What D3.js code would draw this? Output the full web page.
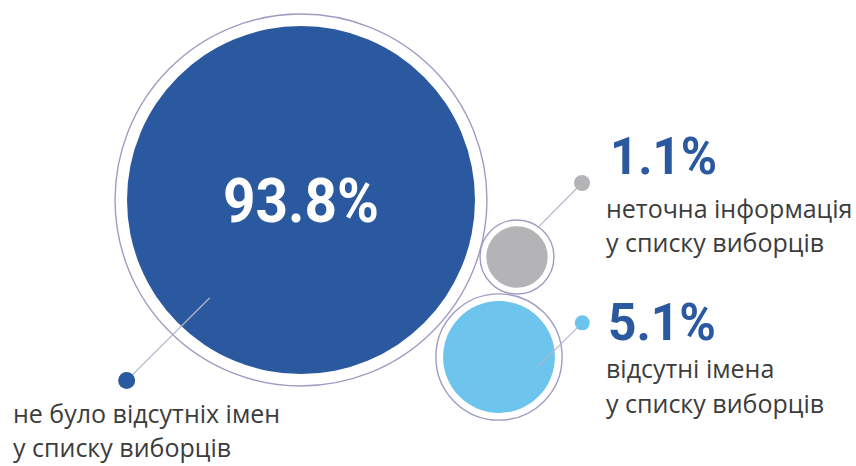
<!DOCTYPE html>
<html>
<head>
<meta charset="utf-8">
<script src="https://cdn.jsdelivr.net/npm/d3@7"></script>
<style>
  html, body { margin: 0; padding: 0; background: #ffffff; }
  svg { display: block; }
</style>
</head>
<body>
<svg id="chart" width="856" height="466"></svg>
<script>
// ---- data ----
const categories = [
  ["не було відсутніх імен", "у списку виборців"],
  ["неточна інформація", "у списку виборців"],
  ["відсутні імена", "у списку виборців"]
];
const values = [93.8, 1.1, 5.1];
const valueLabels = ["93.8%", "1.1%", "5.1%"];

// ---- styling / layout ----
const fills = ["#2b599f", "#b4b4b6", "#6dc5ee"];
const ringColor = "#a09cc4";
const numberColor = "#2b599f";
const textColor = "#3c3c3c";

// circle centres (layout)
const centers = [[301, 200], [517, 257], [499, 357]];
// leader lines in polar offsets from the bubble centre (deg, px)
const leaders = [
  { a1: 133, d1: 134, a2: 134, d2: 251, dotR: 8.5 },
  { a1: -55, d1: 35, a2: -48.7, d2: 98.5, dotR: 8 },
  { a1: 14, d1: 40, a2: -22.3, d2: 90, dotR: 7.5 }
];
// label anchors
const labelPos = [
  { x: 13, num: null, lines: [423, 457] },
  { x: 606, num: 174, lines: [218, 252] },
  { x: 606, num: 340, lines: [378, 413] }
];
const numX = [null, 610, 608];
const numWidths = [156, 107, 108];

const svg = d3.select("#chart");

const r = d3.scalePow().exponent(0.39).domain([0, d3.max(values)]).range([0, 174]);

const data = values.map((v, i) => ({
  v, i, cat: categories[i], label: valueLabels[i],
  cx: centers[i][0], cy: centers[i][1], r: r(v)
}));

// outer rings
svg.selectAll("circle.ring").data(data).join("circle")
  .attr("class", "ring")
  .attr("cx", d => d.cx).attr("cy", d => d.cy)
  .attr("r", d => d.r + 5 + d.r * 0.04)
  .attr("fill", "#ffffff")
  .attr("stroke", ringColor).attr("stroke-width", 1.4);

// filled bubbles
svg.selectAll("circle.bubble").data(data).join("circle")
  .attr("class", "bubble")
  .attr("cx", d => d.cx).attr("cy", d => d.cy)
  .attr("r", d => d.r)
  .attr("fill", d => fills[d.i]);

// leader lines + dots
const rad = deg => deg * Math.PI / 180;
data.forEach(d => {
  const L = leaders[d.i];
  const x1 = d.cx + Math.cos(rad(L.a1)) * L.d1, y1 = d.cy + Math.sin(rad(L.a1)) * L.d1;
  const x2 = d.cx + Math.cos(rad(L.a2)) * L.d2, y2 = d.cy + Math.sin(rad(L.a2)) * L.d2;
  svg.append("line")
    .attr("x1", x1).attr("y1", y1).attr("x2", x2).attr("y2", y2)
    .attr("stroke", "#b3b7cc").attr("stroke-width", 1.2);
  svg.append("circle")
    .attr("cx", x2).attr("cy", y2).attr("r", L.dotR)
    .attr("fill", fills[d.i]);
});

// big value inside first bubble
svg.append("text")
  .attr("x", data[0].cx - numWidths[0] / 2).attr("y", data[0].cy + 22)
  .attr("textLength", numWidths[0]).attr("lengthAdjust", "spacingAndGlyphs")
  .attr("font-family", "Roboto, 'DejaVu Sans', sans-serif")
  .attr("font-weight", 700).attr("font-size", 62)
  .attr("fill", "#ffffff")
  .text(data[0].label);

// other values
data.slice(1).forEach(d => {
  const p = labelPos[d.i];
  svg.append("text")
    .attr("x", numX[d.i]).attr("y", p.num)
    .attr("textLength", numWidths[d.i]).attr("lengthAdjust", "spacingAndGlyphs")
    .attr("font-family", "Roboto, 'DejaVu Sans', sans-serif")
    .attr("font-weight", 700).attr("font-size", 51)
    .attr("fill", numberColor)
    .text(d.label);
});

// category labels
data.forEach(d => {
  const p = labelPos[d.i];
  d.cat.forEach((line, k) => {
    svg.append("text")
      .attr("x", p.x).attr("y", p.lines[k])
      .attr("font-family", "'Open Sans', sans-serif")
      .attr("font-size", 25)
      .attr("fill", textColor)
      .text(line);
  });
});
</script>
</body>
</html>
